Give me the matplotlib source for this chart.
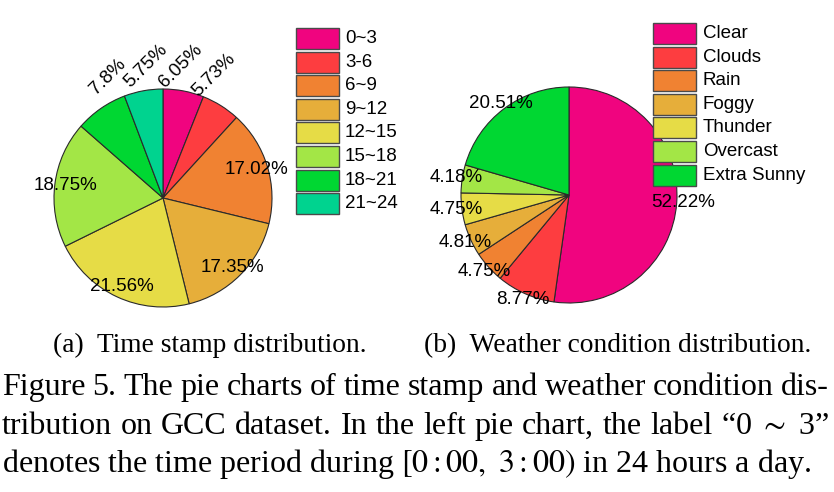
import matplotlib
matplotlib.use('Agg')
import matplotlib.pyplot as plt
from matplotlib.patches import Rectangle
import numpy as np

plt.rcParams['font.family'] = ['Liberation Sans', 'DejaVu Sans']
plt.rcParams['mathtext.fontset'] = 'stix'

# ---- data ----
time_labels = ['0~3', '3-6', '6~9', '9~12', '12~15', '15~18', '18~21', '21~24']
time_values = [6.05, 5.73, 17.02, 17.35, 21.56, 18.75, 7.8, 5.75]
weather_labels = ['Clear', 'Clouds', 'Rain', 'Foggy', 'Thunder', 'Overcast', 'Extra Sunny']
weather_values = [52.22, 8.77, 4.75, 4.81, 4.75, 4.18, 20.51]
palette = ['#F0047F', '#FD3D40', '#F08232', '#E6AE3A', '#E6DC46', '#A3E646', '#00D732', '#00D38F']

W, H = 834, 492
fig = plt.figure(figsize=(W / 100, H / 100), dpi=100)

LBL = 13.5


def pie_axes(cx, cy, r):
    return fig.add_axes([(cx - r) / W, 1 - (cy + r) / H, 2 * r / W, 2 * r / H])


edge = dict(edgecolor='#2a2a2a', linewidth=0.8)

# ---- left pie ----
axl = pie_axes(163, 198, 109)
wl, _ = axl.pie(time_values, colors=palette[:len(time_values)], startangle=90,
                counterclock=False, wedgeprops=edge)
axl.set_xlim(-1, 1); axl.set_ylim(-1, 1); axl.axis('off')
for w, v in zip(wl, time_values):
    mid_deg = ((w.theta1 + w.theta2) / 2 + 90) % 360 - 90
    mid = np.deg2rad(mid_deg)
    if v > 10:
        r = 0.9
        axl.text(r * np.cos(mid), r * np.sin(mid), f"{v:g}%", ha='center', va='center',
                 fontsize=LBL)
    else:
        ang = np.deg2rad(90 + (mid_deg - 90) * 0.7)
        r = 1.22
        axl.text(r * np.cos(ang), r * np.sin(ang), f"{v:g}%", ha='center', va='center',
                 fontsize=LBL, rotation=45, rotation_mode='anchor')

# ---- right pie ----
axr = pie_axes(569, 195, 108)
wr, _ = axr.pie(weather_values, colors=palette[:len(weather_values)], startangle=90,
                counterclock=False, wedgeprops=edge)
axr.set_xlim(-1, 1); axr.set_ylim(-1, 1); axr.axis('off')
for w, v in zip(wr, weather_values):
    mid = np.deg2rad((w.theta1 + w.theta2) / 2)
    r = 1.055
    axr.text(r * np.cos(mid), r * np.sin(mid), f"{v:g}%", ha='center', va='center',
             fontsize=LBL)


# ---- legends (drawn in figure pixel space) ----
def legend(labels, colors, x0, y0, pitch=23.6, bw=43, bh=21, pad=6):
    for i, (lab, col) in enumerate(zip(labels, colors)):
        yt = y0 + i * pitch
        fig.add_artist(Rectangle((x0 / W, 1 - (yt + bh) / H), bw / W, bh / H,
                                 transform=fig.transFigure, facecolor=col,
                                 edgecolor='#4a4a4a', linewidth=1.0))
        fig.text((x0 + bw + pad) / W, 1 - (yt + bh / 2) / H, lab, va='center',
                 ha='left', fontsize=13.5)


legend(time_labels, palette, 296, 28)
legend(weather_labels, palette, 653, 23, pitch=23.6, pad=7)

# ---- captions ----
serif = ['Liberation Serif', 'DejaVu Serif']
fig.text(53 / W, 1 - 352 / H, '(a)  Time stamp distribution.', fontsize=19.8,
         family=serif, va='baseline')
fig.text(424 / W, 1 - 352 / H, '(b)  Weather condition distribution.', fontsize=19.8,
         family=serif, va='baseline')

renderer = fig.canvas.get_renderer()


def justify(tokens, y, x0, x1, size):
    ts = [fig.text(0, 1 - y / H, t, fontsize=size, family=serif, va='baseline')
          for t in tokens]
    widths = [t.get_window_extent(renderer).width for t in ts]
    gap = (x1 - x0 - sum(widths)) / (len(ts) - 1)
    x = x0
    for t, wd in zip(ts, widths):
        t.set_x(x / W)
        x += wd + gap


cap_size = 23
line1 = 'Figure 5. The pie charts of time stamp and weather condition dis-'.split(' ')
line2 = ['tribution', 'on', 'GCC', 'dataset.', 'In', 'the', 'left', 'pie', 'chart,',
         'the', 'label', '“0 $\\sim$ 3”']
justify(line1, 395, 2, 829, cap_size)
justify(line2, 434, 2, 829, cap_size)
fig.text(2 / W, 1 - 472 / H, 'denotes the time period during $[0:00,\\ 3:00)$ in 24 hours a day.',
         fontsize=cap_size, family=serif, va='baseline')

fig.savefig('out.png', dpi=100)
